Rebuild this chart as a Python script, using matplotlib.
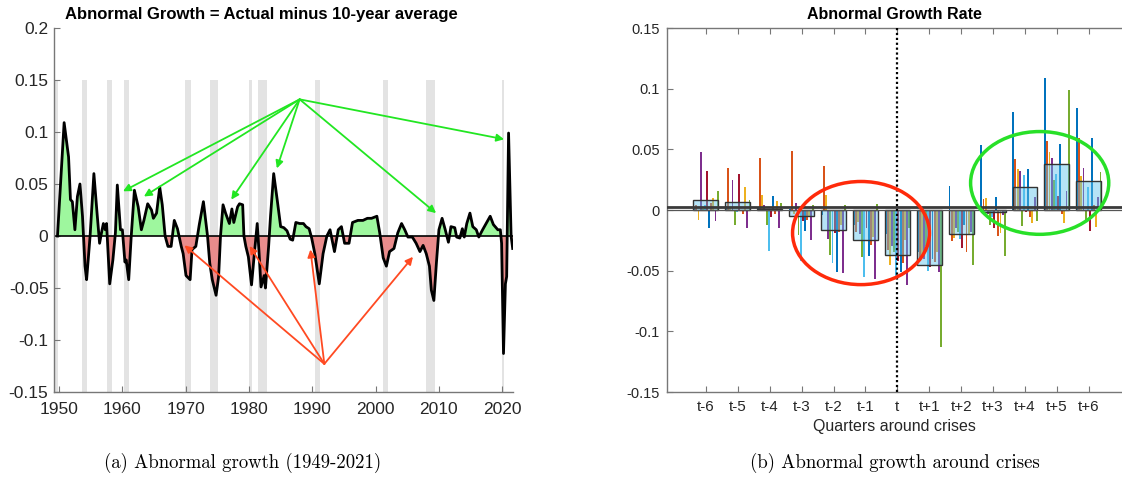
import numpy as np
import matplotlib
matplotlib.use("Agg")
import matplotlib.pyplot as plt
from matplotlib.patches import Ellipse

plt.rcParams["font.family"] = ["Liberation Sans", "DejaVu Sans"]

# ---- panel (a): abnormal growth, 1949-2021 ----
years = [1949.75, 1950.8, 1951.5, 1951.8, 1952.1, 1952.5, 1952.9, 1953.3, 1953.7, 1954.1,
         1954.35, 1954.9, 1955.5, 1956.0, 1956.4, 1956.7, 1957.0, 1957.3, 1957.5, 1958.0,
         1958.5, 1958.9, 1959.2, 1959.7, 1960.0, 1960.4, 1960.6, 1961.0, 1961.4, 1961.9,
         1962.5, 1963.0, 1963.4, 1964.0, 1964.6, 1964.9, 1965.4, 1965.9, 1966.3, 1966.75,
         1967.2, 1967.7, 1968.2, 1968.7, 1969.3, 1969.6, 1970.05, 1970.7, 1971.0, 1971.6,
         1972.15, 1972.8, 1973.45, 1973.8, 1974.2, 1974.8, 1975.2, 1975.5, 1975.9, 1976.3,
         1976.9, 1977.3, 1977.6, 1978.2, 1978.5, 1979.0, 1979.2, 1979.5, 1979.9, 1980.4,
         1980.8, 1981.3, 1981.6, 1981.9, 1982.4, 1982.6, 1983.1, 1983.4, 1983.9, 1984.45,
         1985.0, 1985.5, 1986.0, 1986.5, 1986.9, 1987.4, 1988.0, 1988.6, 1989.0, 1989.5,
         1989.9, 1990.4, 1991.1, 1991.7, 1992.3, 1992.8, 1993.5, 1994.1, 1994.6, 1995.1,
         1995.8, 1996.35, 1997.2, 1998.0, 1998.7, 1999.35, 2000.2, 2000.65, 2001.2, 2001.7,
         2002.2, 2002.9, 2003.5, 2004.1, 2004.6, 2005.1, 2005.8, 2006.4, 2007.0, 2007.5,
         2008.0, 2008.5, 2008.8, 2009.2, 2009.6, 2010.0, 2010.5, 2011.0, 2011.5, 2011.9,
         2012.5, 2012.8, 2013.3, 2013.7, 2014.0, 2014.4, 2014.9, 2015.35, 2015.9, 2016.3,
         2016.9, 2017.45, 2018.1, 2018.6, 2019.3, 2019.7, 2019.9, 2020.2, 2020.5, 2020.7,
         2021.0, 2021.4, 2021.65]
abn_growth = [0.0, 0.109, 0.076, 0.035, 0.033, 0.006, 0.038, 0.05, 0.019, -0.029,
              -0.042, 0.0, 0.06, 0.022, -0.007, 0.003, 0.012, 0.006, 0.012, -0.046,
              -0.023, 0.003, 0.049, 0.006, 0.006, -0.025, -0.023, -0.042, 0.0, 0.044,
              0.028, 0.006, 0.015, 0.031, 0.025, 0.017, 0.022, 0.047, 0.03, 0.0,
              -0.01, -0.01, 0.015, 0.007, -0.01, -0.017, -0.038, -0.042, -0.013, -0.01,
              0.011, 0.033, 0.0, -0.026, -0.042, -0.057, -0.039, 0.0, 0.03, 0.022,
              0.012, 0.026, 0.013, 0.028, 0.031, 0.03, 0.0, -0.01, -0.02, -0.047,
              -0.02, 0.012, -0.017, -0.049, -0.038, -0.05, -0.01, 0.019, 0.06, 0.035,
              0.009, 0.008, 0.005, -0.003, -0.004, 0.013, 0.012, 0.012, 0.009, 0.007,
              -0.002, -0.017, -0.046, -0.017, 0.0, 0.006, -0.015, 0.006, 0.009, -0.007,
              -0.007, 0.013, 0.015, 0.015, 0.017, 0.017, 0.019, 0.003, -0.021, -0.029,
              -0.015, -0.012, 0.003, 0.012, 0.006, -0.001, -0.001, -0.007, -0.015, -0.009,
              -0.017, -0.029, -0.052, -0.062, -0.026, 0.006, 0.017, 0.006, -0.006, 0.009,
              0.008, -0.001, -0.002, 0.007, -0.001, 0.012, 0.022, 0.009, 0.006, -0.001,
              0.006, 0.012, 0.019, 0.011, 0.006, 0.006, -0.007, -0.113, -0.046, -0.039,
              0.099, 0.0, -0.012]

rec_start = [1949.2, 1953.6, 1957.65, 1960.3, 1969.9, 1973.8, 1979.95, 1981.45, 1990.5, 2001.2, 2007.9, 2020.0]
rec_end = [1949.85, 1954.4, 1958.3, 1961.1, 1970.85, 1975.1, 1980.5, 1982.8, 1991.2, 2001.95, 2009.4, 2020.35]

green_targets = [(1960.1, 0.043), (1963.4, 0.038), (1977.2, 0.035), (1984.4, 0.065),
                 (2009.55, 0.022), (2020.3, 0.093)]
red_targets = [(1969.8, -0.009), (1980.1, -0.0096), (1989.7, -0.013), (2005.9, -0.020)]

# ---- panel (b): abnormal growth around crises ----
quarters = ["t-6", "t-5", "t-4", "t-3", "t-2", "t-1", "t", "t+1", "t+2", "t+3", "t+4", "t+5", "t+6"]
q_m6 = [0.002, 0.004, -0.008, 0.048, 0.001, 0.004, 0.032, -0.015, 0.006, 0.010, -0.009, 0.016]
q_m5 = [0.003, 0.035, 0.002, 0.025, -0.012, -0.002, 0.030, -0.001, -0.003, 0.019, -0.015, 0.008]
q_m4 = [0.002, 0.043, 0.012, 0.004, -0.012, -0.0335, -0.006, 0.0115, -0.003, 0.0075, -0.015, 0.006]
q_m3 = [0.001, 0.049, -0.003, 0.0055, -0.0205, -0.042, -0.009, -0.017, -0.008, -0.005, -0.025, 0.004]
q_m2 = [-0.004, 0.036, 0.012, -0.024, -0.037, -0.0435, -0.019, -0.051, -0.018, -0.012, -0.0516, 0.0044]
q_m1 = [-0.012, -0.018, -0.010, -0.02, -0.0385, -0.055, -0.015, -0.0376, -0.029, -0.022, -0.057, 0.005]
q_0 = [-0.02, -0.033, -0.045, -0.03, -0.035, -0.054, -0.042, -0.051, -0.044, -0.025, -0.062, -0.015]
q_p1 = [-0.035, -0.042, -0.038, -0.04, -0.03, -0.05, -0.047, -0.04, -0.043, -0.035, -0.051, -0.113]
q_p2 = [0.0198, -0.0255, -0.0234, -0.015, -0.018, -0.024, -0.0316, -0.012, -0.035, -0.02, -0.018, -0.045]
q_p3 = [0.0536, 0.009, 0.0096, -0.003, -0.0124, -0.0055, -0.015, 0.0104, -0.0214, -0.019, -0.004, -0.038]
q_p4 = [0.081, 0.042, 0.034, 0.032, -0.013, 0.029, -0.0016, 0.034, -0.0055, -0.0104, 0.011, -0.0088]
q_p5 = [0.1085, 0.057, 0.048, 0.0426, 0.025, 0.030, 0.0115, 0.054, -0.0033, -0.0104, 0.016, 0.099]
q_p6 = [0.0838, 0.059, 0.028, 0.035, -0.008, 0.019, -0.017, 0.059, 0.004, -0.0143, 0.011, 0.0316]
avg_growth = [0.008, 0.007, 0.001, -0.005, -0.0165, -0.025, -0.037, -0.045, -0.020, -0.002, 0.0187, 0.0377, 0.0236]
overall_mean = 0.0025

MATLAB_COLORS = ["#0072BD", "#D95319", "#EDB120", "#7E2F8E", "#77AC30", "#4DBEEE", "#A2142F"]
AXIS_COLOR = "#777777"
TEXT_COLOR = "#262626"

fig = plt.figure(figsize=(11.22, 4.84), dpi=100)

# ---------------- left panel ----------------
ax1 = fig.add_axes([54 / 1122, 92 / 484, 459 / 1122, 364 / 484])
yr = np.array(years)
g = np.array(abn_growth)
for s, e in zip(rec_start, rec_end):
    ax1.fill_between([s, e], -0.15, 0.15, color="#e3e3e3", lw=0, zorder=0)
ax1.fill_between(yr, g, 0, where=g >= 0, interpolate=True, color="#9ef79e", lw=0, zorder=1)
ax1.fill_between(yr, g, 0, where=g <= 0, interpolate=True, color="#e98c8c", lw=0, zorder=1)
ax1.axhline(0, color="black", lw=1.2, zorder=2)
ax1.plot(yr, g, color="black", lw=2.0, zorder=3)

green_src = (1988.0, 0.1314)
for tx, ty in green_targets:
    ax1.annotate("", xy=(tx, ty), xytext=green_src,
                 arrowprops=dict(arrowstyle="-|>", color="#22e622", lw=1.3,
                                 mutation_scale=11, shrinkA=0, shrinkB=0), zorder=4)
red_src = (1991.9, -0.123)
for tx, ty in red_targets:
    ax1.annotate("", xy=(tx, ty), xytext=red_src,
                 arrowprops=dict(arrowstyle="-|>", color="#ff4a22", lw=1.3,
                                 mutation_scale=11, shrinkA=0, shrinkB=0), zorder=4)

ax1.set_xlim(1949.2, 2021.7)
ax1.set_ylim(-0.15, 0.2)
yt1 = [-0.15, -0.1, -0.05, 0, 0.05, 0.1, 0.15, 0.2]
ax1.set_yticks(yt1)
ax1.set_yticklabels([f"{v:g}" for v in yt1])
ax1.set_xticks([1950, 1960, 1970, 1980, 1990, 2000, 2010, 2020])
ax1.spines["top"].set_visible(False)
ax1.spines["right"].set_visible(False)
for sp in ["left", "bottom"]:
    ax1.spines[sp].set_color(AXIS_COLOR)
    ax1.spines[sp].set_linewidth(1.0)
ax1.tick_params(direction="in", length=4, color=AXIS_COLOR, labelsize=12.5,
                labelcolor=TEXT_COLOR, pad=4)
ax1.tick_params(axis="x", pad=7)
ax1.text(0.451, 1.038, "Abnormal Growth = Actual minus 10-year average",
         transform=ax1.transAxes, ha="center", va="center",
         fontsize=12, fontweight="bold", color="black")

# ---------------- right panel ----------------
ax2 = fig.add_axes([667 / 1122, 92 / 484, 455 / 1122, 364 / 484])
xpos = np.arange(1, len(quarters) + 1)
quarter_rows = np.array([q_m6, q_m5, q_m4, q_m3, q_m2, q_m1, q_0,
                         q_p1, q_p2, q_p3, q_p4, q_p5, q_p6])
n_crises = quarter_rows.shape[1]
step = 0.8 / n_crises
for i in range(n_crises):
    off = (i - (n_crises - 1) / 2) * step
    ax2.bar(xpos + off, quarter_rows[:, i], width=0.06,
            color=MATLAB_COLORS[i % len(MATLAB_COLORS)], lw=0, zorder=2)
ax2.bar(xpos, avg_growth, width=0.78, facecolor=(0.36, 0.76, 0.93, 0.45),
        edgecolor="#333333", lw=1.0, zorder=3)
ax2.axhline(0, color="#555555", lw=0.9, zorder=4)
ax2.axhline(overall_mean, color="#3a3a3a", lw=2.0, zorder=4)
ax2.axvline(7, color="black", lw=1.6, ls=(0, (1, 1.2)), zorder=5)

ax2.add_patch(Ellipse((5.86, -0.019), 4.29, 0.085, fill=False, edgecolor="#ff2a0a",
                      lw=2.5, zorder=6))
ax2.add_patch(Ellipse((11.46, 0.0223), 4.33, 0.0847, fill=False, edgecolor="#28e028",
                      lw=2.5, zorder=6))

ax2.set_xlim(-0.22, 14.04)
ax2.set_ylim(-0.15, 0.15)
yt2 = [-0.15, -0.1, -0.05, 0, 0.05, 0.1, 0.15]
ax2.set_yticks(yt2)
ax2.set_yticklabels([f"{v:g}" for v in yt2])
ax2.set_xticks(xpos)
ax2.set_xticklabels(quarters)
ax2.spines["right"].set_visible(False)
for sp in ["left", "bottom", "top"]:
    ax2.spines[sp].set_color(AXIS_COLOR)
    ax2.spines[sp].set_linewidth(1.0)
ax2.tick_params(direction="in", length=4, color=AXIS_COLOR, labelsize=10.5,
                labelcolor=TEXT_COLOR, top=True, pad=5)
ax2.tick_params(axis="x", labelsize=11, pad=6)
ax2.set_xlabel("Quarters around crises", fontsize=11.5, color=TEXT_COLOR, labelpad=3)
ax2.text(0.5, 1.038, "Abnormal Growth Rate", transform=ax2.transAxes,
         ha="center", va="center", fontsize=11.5, fontweight="bold", color="black")

# ---------------- captions ----------------
fig.text(243 / 1122, 1 - 463 / 484, "(a) Abnormal growth (1949-2021)",
         ha="center", va="center", fontsize=13.5, family="cmr10")
fig.text(895 / 1122, 1 - 463 / 484, "(b) Abnormal growth around crises",
         ha="center", va="center", fontsize=13.5, family="cmr10")

fig.savefig("out.png", dpi=100)
